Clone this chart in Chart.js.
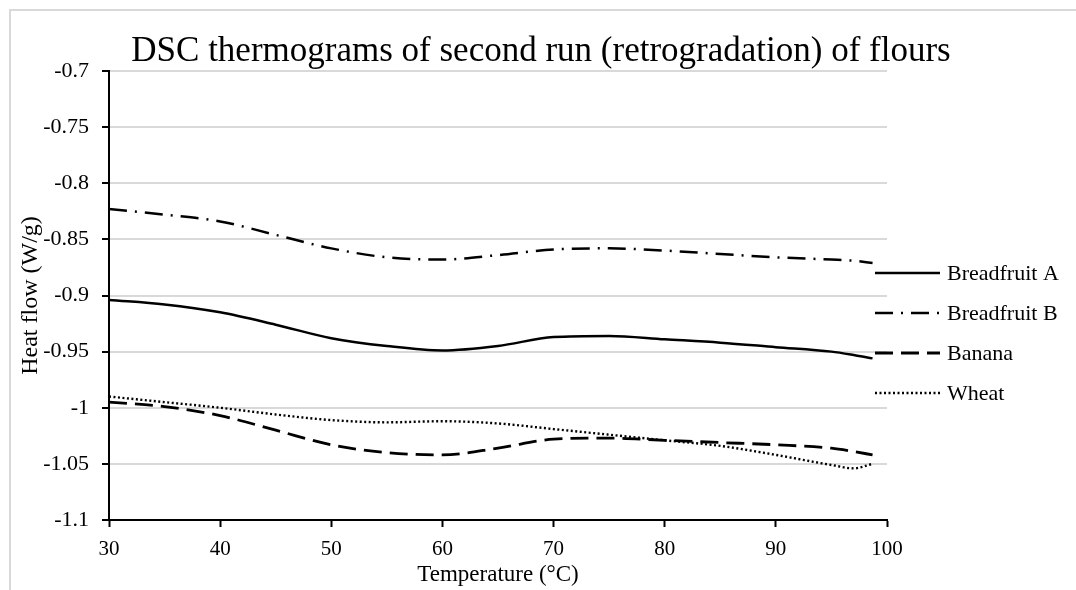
<!DOCTYPE html>
<html>
<head>
<meta charset="utf-8">
<script src="https://cdn.jsdelivr.net/npm/chart.js@4.4.1/dist/chart.umd.min.js"></script>
<style>
    html, body { margin: 0; padding: 0; background: #fff; }
    #wrap { position: relative; width: 1076px; height: 590px; overflow: hidden; }
    #frame { position: absolute; left: 9px; top: 9px; width: 1200px; height: 700px; border-left: 2px solid #d9d9d9; border-top: 2px solid #d9d9d9; }
    canvas { position: absolute; left: 0; top: 0; }
</style>
</head>
<body>
<div id="wrap">
    <div id="frame"></div>
    <canvas id="dscChart" width="1076" height="590"></canvas>
</div>
<script>
const temps = [30, 35, 40, 45, 50, 55, 60, 65, 70, 75, 80, 85, 90, 95, 97, 98.7];
const breadfruitA = [-0.904, -0.908, -0.915, -0.926, -0.938, -0.945, -0.949, -0.945, -0.937, -0.936, -0.939, -0.942, -0.946, -0.950, -0.953, -0.956];
const breadfruitB = [-0.823, -0.828, -0.834, -0.846, -0.858, -0.866, -0.868, -0.864, -0.859, -0.858, -0.860, -0.863, -0.866, -0.868, -0.869, -0.871];
const banana = [-0.995, -0.999, -1.007, -1.020, -1.033, -1.040, -1.042, -1.036, -1.028, -1.027, -1.029, -1.031, -1.033, -1.036, -1.039, -1.042];
const wheat = [-0.990, -0.995, -1.000, -1.006, -1.011, -1.013, -1.012, -1.014, -1.019, -1.024, -1.029, -1.034, -1.042, -1.051, -1.054, -1.050];

const seriesNames = ['Breadfruit A', 'Breadfruit B', 'Banana', 'Wheat'];
const chartTitle = 'DSC thermograms of second run (retrogradation) of flours';
const xTitle = 'Temperature (°C)';
const yTitle = 'Heat flow (W/g)';

const serif = '"Liberation Serif", "Times New Roman", serif';

const toPoints = (values) => temps.map((t, i) => ({ x: t, y: values[i] }));

const makeSet = (label, values, dash, width) => ({
    label: label,
    data: toPoints(values),
    borderColor: '#000',
    borderWidth: width,
    borderDash: dash,
    borderCapStyle: 'butt',
    pointRadius: 0,
    fill: false,
    cubicInterpolationMode: 'monotone'
});

// Titel und Legende selbst zeichnen
const titleAndLegend = {
    id: 'titleAndLegend',
    afterDraw(chart) {
        const c = chart.ctx;
        c.save();
        c.fillStyle = '#000';
        c.font = '35px ' + serif;
        c.textAlign = 'center';
        c.textBaseline = 'alphabetic';
        c.fillText(chartTitle, 541, 61);

        c.font = '22px ' + serif;
        c.textAlign = 'left';
        c.textBaseline = 'middle';
        chart.data.datasets.forEach((ds, i) => {
            const y = 273 + i * 40;
            c.beginPath();
            c.strokeStyle = '#000';
            c.lineWidth = ds.borderWidth;
            c.setLineDash(ds.borderDash || []);
            c.moveTo(875, y);
            c.lineTo(940, y);
            c.stroke();
            c.setLineDash([]);
            c.fillText(ds.label, 947, y + 1);
        });
        c.restore();
    }
};

const ctx = document.getElementById('dscChart').getContext('2d');
new Chart(ctx, {
    type: 'line',
    data: {
        datasets: [
            makeSet(seriesNames[0], breadfruitA, [], 2.5),
            makeSet(seriesNames[1], breadfruitB, [18, 8, 2, 8], 2.5),
            makeSet(seriesNames[2], banana, [18, 8], 2.8),
            makeSet(seriesNames[3], wheat, [2, 2.5], 2.4)
        ]
    },
    options: {
        responsive: false,
        animation: false,
        layout: { padding: { top: 71, right: 189, left: 0, bottom: 0 } },
        plugins: {
            legend: { display: false },
            title: { display: false },
            tooltip: { enabled: false }
        },
        scales: {
            x: {
                type: 'linear',
                min: 30,
                max: 100,
                afterFit: (scale) => { scale.height = 70; },
                ticks: {
                    stepSize: 10,
                    color: '#000',
                    padding: 10,
                    font: { family: serif, size: 21 }
                },
                grid: {
                    drawOnChartArea: false,
                    drawTicks: true,
                    tickLength: 7,
                    tickColor: '#000',
                    tickWidth: 2
                },
                border: { color: '#000', width: 2 },
                title: {
                    display: true,
                    text: xTitle,
                    color: '#000',
                    padding: { top: 0, bottom: 1 },
                    font: { family: serif, size: 23 }
                }
            },
            y: {
                min: -1.1,
                max: -0.7,
                afterFit: (scale) => { scale.width = 109; },
                ticks: {
                    stepSize: 0.05,
                    color: '#000',
                    padding: 13,
                    font: { family: serif, size: 22 },
                    callback: (v) => String(Number(v.toFixed(2)))
                },
                grid: {
                    color: '#d9d9d9',
                    lineWidth: 2,
                    drawTicks: true,
                    tickLength: 7,
                    tickColor: '#000',
                    tickWidth: 2
                },
                border: { color: '#000', width: 2 },
                title: {
                    display: true,
                    text: yTitle,
                    color: '#000',
                    padding: { top: 16, bottom: 0 },
                    font: { family: serif, size: 24 }
                }
            }
        }
    },
    plugins: [titleAndLegend]
});
</script>
</body>
</html>
